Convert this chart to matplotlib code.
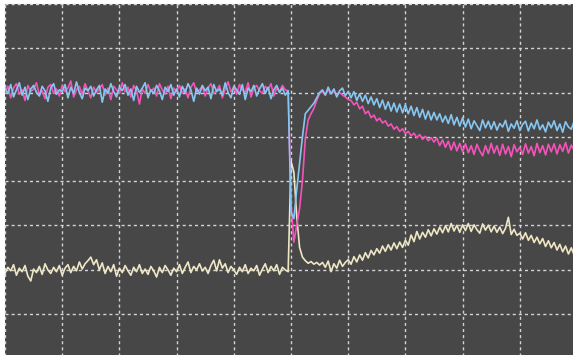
import numpy as np
import matplotlib
matplotlib.use("Agg")
import matplotlib.pyplot as plt

# scope capture, values in screen divisions (10 x 8 grid), one sample every 0.05 div
sample_step = 0.05

ch_blue = [
    6.10, 5.98, 6.18, 5.90, 6.06, 6.22, 5.94, 6.12, 5.84, 6.08,
    6.16, 6.00, 5.92, 6.14, 6.04, 5.80, 6.10, 6.20, 5.96, 6.06,
    6.02, 6.18, 5.88, 6.12, 5.98, 6.24, 6.00, 5.86, 6.10, 6.04,
    6.14, 5.92, 6.06, 6.16, 5.78, 6.08, 5.98, 6.20, 6.02, 5.90,
    6.12, 6.04, 6.18, 5.94, 6.08, 5.82, 6.14, 6.00, 6.10, 6.22,
    5.88, 6.06, 5.98, 6.16, 6.04, 5.84, 6.12, 6.02, 6.18, 5.94,
    6.08, 5.90, 6.14, 6.00, 6.20, 6.06, 5.80, 6.10, 5.96, 6.16,
    6.04, 6.12, 5.86, 6.18, 6.02, 6.08, 5.94, 6.22, 6.00, 5.88,
    6.14, 6.06, 5.96, 6.18, 5.84, 6.10, 6.02, 6.16, 5.92, 6.08,
    6.20, 5.98, 6.12, 5.86, 6.06, 6.16, 6.00, 6.10, 5.94, 6.04,
    3.30, 3.15, 3.80, 4.40, 5.00, 5.52, 5.60, 5.68, 5.76, 5.88, 6.00,
    6.06, 5.94, 6.12, 5.97, 6.08, 5.90, 6.04, 6.10, 5.93, 6.02,
    5.88, 6.02, 5.82, 5.97, 5.80, 5.94, 5.75, 5.90, 5.72, 5.86,
    5.66, 5.83, 5.62, 5.79, 5.58, 5.76, 5.56, 5.74, 5.54, 5.72,
    5.52, 5.69, 5.48, 5.66, 5.44, 5.62, 5.40, 5.58, 5.38, 5.55,
    5.38, 5.52, 5.33, 5.47, 5.30, 5.50, 5.27, 5.44, 5.24, 5.43,
    5.22, 5.40, 5.18, 5.36, 5.25, 5.14, 5.38, 5.20, 5.35, 5.17,
    5.34, 5.15, 5.30, 5.22, 5.37, 5.12, 5.29, 5.19, 5.36, 5.14,
    5.28, 5.35, 5.13, 5.31, 5.18, 5.38, 5.16, 5.27, 5.11, 5.33,
    5.20, 5.36, 5.14, 5.29, 5.10, 5.34, 5.22, 5.17, 5.35, 5.19,
]

ch_pink = [
    6.00, 6.14, 5.88, 6.10, 6.20, 5.96, 6.06, 5.82, 6.16, 6.02,
    6.08, 6.22, 5.94, 6.04, 5.86, 6.12, 6.18, 5.98, 6.08, 5.92,
    6.16, 6.02, 6.10, 6.26, 5.90, 6.06, 6.14, 5.96, 6.20, 6.04,
    5.88, 6.12, 6.00, 6.08, 6.18, 5.94, 6.10, 5.84, 6.14, 6.06,
    5.98, 6.22, 6.02, 6.12, 5.90, 6.16, 6.04, 5.74, 6.08, 5.98,
    6.18, 6.02, 6.10, 5.92, 6.20, 6.06, 5.96, 6.14, 5.86, 6.10,
    6.02, 6.16, 5.98, 6.08, 5.88, 6.12, 6.22, 6.00, 6.06, 6.14,
    5.92, 6.10, 6.20, 5.98, 6.04, 6.16, 5.88, 6.08, 6.24, 6.02,
    6.12, 5.96, 6.18, 6.06, 6.00, 6.22, 5.90, 6.10, 6.16, 6.04,
    5.98, 6.14, 6.06, 6.20, 5.92, 6.10, 6.02, 6.16, 6.06, 6.04,
    3.50, 2.62, 3.00, 3.38, 4.00, 4.95, 5.38, 5.52, 5.64, 5.82, 5.98,
    6.02, 5.95, 6.06, 5.98, 6.03, 5.93, 6.00, 5.94, 5.90, 5.84,
    5.82, 5.72, 5.78, 5.63, 5.69, 5.52, 5.58, 5.43, 5.49, 5.36,
    5.42, 5.31, 5.36, 5.24, 5.29, 5.17, 5.23, 5.12, 5.18, 5.07,
    5.12, 5.02, 5.08, 4.98, 5.05, 4.94, 5.01, 4.91, 4.98, 4.88,
    4.97, 4.80, 4.93, 4.76, 4.90, 4.70, 4.88, 4.68, 4.85, 4.66,
    4.84, 4.64, 4.80, 4.60, 4.83, 4.68, 4.57, 4.80, 4.62, 4.85,
    4.63, 4.80, 4.58, 4.83, 4.61, 4.78, 4.55, 4.82, 4.66, 4.76,
    4.60, 4.84, 4.63, 4.78, 4.57, 4.85, 4.64, 4.80, 4.59, 4.83,
    4.66, 4.84, 4.61, 4.82, 4.67, 4.87, 4.63, 4.81, 4.70, 4.85,
]

ch_beige = [
    1.91, 2.05, 1.97, 2.11, 1.87, 2.03, 1.95, 2.09, 1.85, 1.74,
    2.01, 1.93, 2.07, 1.89, 2.13, 1.99, 1.91, 2.05, 1.95, 2.09,
    1.87, 2.03, 2.11, 1.93, 2.07, 1.97, 2.17, 2.01, 2.13, 2.20,
    2.28, 2.11, 2.22, 1.99, 2.15, 1.91, 2.07, 1.95, 2.11, 1.85,
    2.03, 1.93, 2.09, 1.97, 1.87, 2.05, 1.95, 2.11, 1.91, 2.01,
    1.89, 2.07, 1.97, 1.83, 2.05, 1.93, 2.09, 1.99, 1.87, 2.03,
    1.95, 2.11, 1.91, 2.05, 2.17, 1.93, 2.07, 1.99, 2.13, 1.97,
    2.05, 1.91, 2.09, 2.21, 1.97, 2.22, 2.03, 2.13, 1.93, 2.07,
    1.99, 1.89, 2.05, 1.95, 2.11, 1.91, 2.03, 1.97, 2.09, 1.87,
    2.01, 2.13, 1.93, 2.07, 1.97, 2.11, 1.89, 2.05, 1.99, 1.95,
    4.45, 4.20, 3.20, 2.50, 2.28, 2.20, 2.14, 2.18, 2.12, 2.16, 2.10,
    2.16, 2.05, 2.19, 1.95, 2.13, 2.03, 2.21, 2.07, 2.16, 2.22,
    2.12, 2.29, 2.17, 2.33, 2.21, 2.38, 2.26, 2.43, 2.33, 2.47,
    2.37, 2.53, 2.41, 2.56, 2.44, 2.60, 2.47, 2.62, 2.50, 2.66,
    2.55, 2.78, 2.63, 2.86, 2.69, 2.84, 2.73, 2.90, 2.76, 2.92,
    2.80, 2.96, 2.83, 2.99, 2.85, 3.04, 2.87, 3.00, 2.84, 3.01,
    2.88, 3.04, 2.86, 3.01, 2.90, 2.82, 3.03, 2.89, 3.00, 2.85,
    2.98, 2.84, 2.96, 2.81, 2.93, 3.18, 2.79, 2.91, 2.77, 2.82,
    2.69, 2.83, 2.66, 2.77, 2.61, 2.73, 2.58, 2.70, 2.52, 2.65,
    2.49, 2.61, 2.44, 2.57, 2.40, 2.53, 2.35, 2.49, 2.33, 2.45,
]

n_div_x = 10
n_div_y = 8

t = np.arange(len(ch_blue)) * sample_step

fig = plt.figure(figsize=(5.73, 3.55), dpi=100, facecolor="white")
# screen area runs a little past the right and bottom edge of the capture
ax = fig.add_axes([5 / 573, -3 / 355, 572 / 573, 354 / 355])
ax.set_facecolor("#474747")

for k in range(n_div_x + 1):
    ax.axvline(k, color="#d4d4d4", lw=1.0, ls=(0, (2.2, 2.2)), clip_on=False, zorder=1)
for k in range(n_div_y + 1):
    ax.axhline(k, color="#d4d4d4", lw=1.0, ls=(0, (2.2, 2.2)), clip_on=False, zorder=1)

ax.plot(t, ch_beige, color="#eee6c4", lw=1.2, zorder=2)
ax.plot(t, ch_pink, color="#f553b9", lw=1.2, zorder=3)
ax.plot(t, ch_blue, color="#88c6f2", lw=1.2, zorder=4)

ax.set_xlim(0, n_div_x)
ax.set_ylim(0, n_div_y)
ax.set_xticks([])
ax.set_yticks([])
for s in ax.spines.values():
    s.set_visible(False)

fig.savefig("out.png", dpi=100, facecolor="white")
